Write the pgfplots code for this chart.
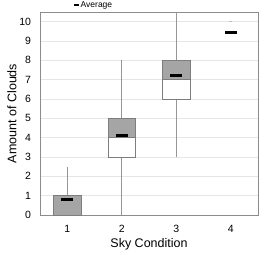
\documentclass[border=0pt]{standalone}
\usepackage{fontspec}
\setmainfont{Liberation Sans}
\usepackage{pgfplots}
\pgfplotsset{compat=1.18}

\definecolor{boxfill}{RGB}{165,165,165}
\definecolor{boxedge}{RGB}{125,125,125}
\definecolor{whisk}{RGB}{150,150,150}
\definecolor{gridc}{RGB}{230,230,230}
\definecolor{framec}{RGB}{140,140,140}

\begin{document}
\begin{tikzpicture}
\begin{axis}[
  scale only axis,
  width=218pt, height=203pt,
  xmin=0.5, xmax=4.5,
  ymin=0, ymax=10.5,
  xtick={1,2,3,4},
  ytick={0,1,...,10},
  major tick length=0pt,
  ymajorgrids,
  grid style={gridc, line width=0.6pt},
  axis line style={framec, line width=0.7pt},
  tick label style={font=\fontsize{10.5}{12}\selectfont},
  /pgf/number format/assume math mode=true,
  xticklabel style={anchor=base, yshift=-17pt},
  yticklabel style={anchor=east, xshift=-5.5pt},
  xlabel={Sky Condition},
  label style={font=\fontsize{12.5}{14}\selectfont},
  xlabel style={at={(rel axis cs:0.5,0)}, anchor=base, yshift=-32.7pt},
  legend style={at={(rel axis cs:0,1)}, anchor=west, xshift=33pt, yshift=7pt,
    draw=none, fill=none, inner sep=0pt,
    font=\fontsize{8.5}{9}\selectfont,
    nodes={inner sep=1pt},
    legend cell align=left},
  legend image code/.code={\draw[black, line width=2pt] (0pt,0pt) -- (4.5pt,0pt);},
]
% whiskers: from minimum to first quartile, third quartile to maximum
\addplot[whisk, line width=0.6pt, forget plot] coordinates {(1,1) (1,2.5)};
\addplot[whisk, line width=0.6pt, forget plot] coordinates {(2,0) (2,3)};
\addplot[whisk, line width=0.6pt, forget plot] coordinates {(2,5) (2,8)};
\addplot[whisk, line width=0.6pt, forget plot] coordinates {(3,3) (3,6)};
\addplot[whisk, line width=0.6pt, forget plot] coordinates {(3,8) (3,10.5)};
\addplot[gridc!60!gray, line width=0.6pt, forget plot] coordinates {(3.97,10) (4.03,10)};

% lower halves (Q1 to median), white
\addplot[fill=white, draw=boxedge, line width=0.6pt, forget plot]
  coordinates {(1.75,3) (2.25,3) (2.25,4) (1.75,4)} -- cycle;
\addplot[fill=white, draw=boxedge, line width=0.6pt, forget plot]
  coordinates {(2.75,6) (3.25,6) (3.25,7) (2.75,7)} -- cycle;

% upper halves (median to Q3), grey
\addplot[fill=boxfill, draw=boxedge, line width=0.6pt, forget plot]
  coordinates {(0.75,0) (1.25,0) (1.25,1) (0.75,1)} -- cycle;
\addplot[fill=boxfill, draw=boxedge, line width=0.6pt, forget plot]
  coordinates {(1.75,4) (2.25,4) (2.25,5) (1.75,5)} -- cycle;
\addplot[fill=boxfill, draw=boxedge, line width=0.6pt, forget plot]
  coordinates {(2.75,7) (3.25,7) (3.25,8) (2.75,8)} -- cycle;

% averages
\addplot[black, only marks, mark=-, mark size=5.8pt, mark options={line width=2.6pt}]
  coordinates {(1,0.8) (2,4.1) (3,7.2) (4,9.45)};
\addlegendentry{Average}
\end{axis}
% y-axis title, left of the tick labels
\node[rotate=90, anchor=center, font=\fontsize{12.5}{14}\selectfont]
  at (-28pt,101.5pt) {Amount of Clouds};
\pgfresetboundingbox
\path (-40pt,-37pt) rectangle (220pt,215pt);
\end{tikzpicture}
\end{document}
